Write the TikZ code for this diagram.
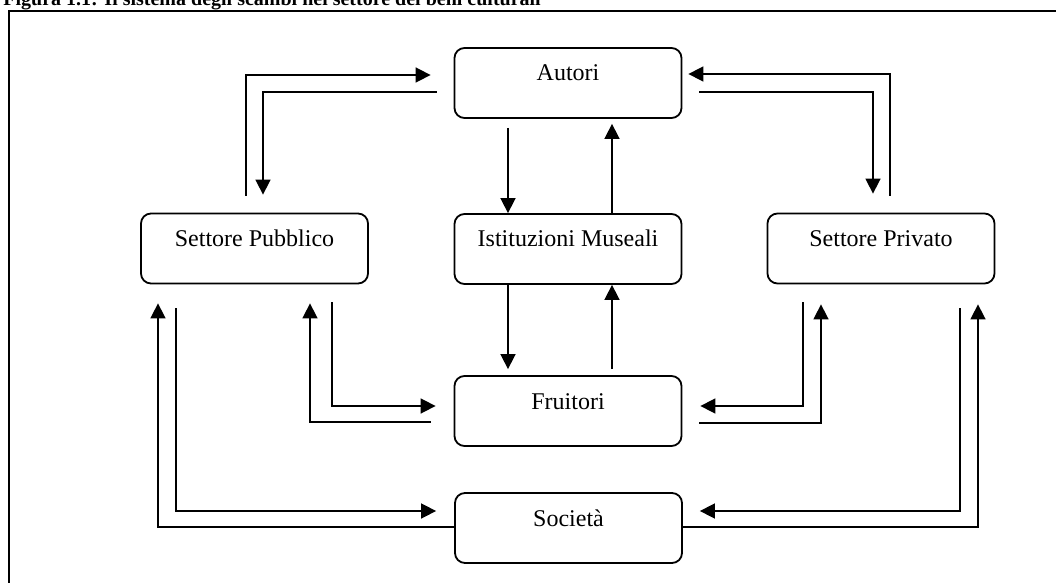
\documentclass[tikz,border=0pt]{standalone}
\usepackage{fontspec}
\setmainfont{Liberation Serif}
\usetikzlibrary{arrows.meta,calc}
\begin{document}
\begin{tikzpicture}[x=0.5pt,y=-0.5pt,
  box/.style={draw, line width=0.9pt, rounded corners=5pt,
    minimum width=113.5pt, minimum height=35pt, inner sep=0pt,
    text height=8pt, text depth=10pt, font=\fontsize{12}{14}\selectfont},
  flow/.style={line width=0.8pt, -{Triangle[length=7.5pt,width=7.5pt]}},
  frameline/.style={line width=1pt}]
  % page area
  \path[use as bounding box] (0,0) rectangle (1056,583);
  \clip (0,0) rectangle (1056,583);

  % caption and surrounding frame
  \node[anchor=base west, inner sep=0pt, font=\bfseries\fontsize{10}{12}\selectfont]
    (title) at (3,6) {Figura 1.1: Il sistema degli scambi nel settore dei beni culturali};
  \draw[frameline] (8.5,640) |- (1120,11.5);

  % actors
  \node[box] (aut) at (568,83)      {Autori};
  \node[box] (ist) at (568,249)     {Istituzioni Museali};
  \node[box] (fru) at (568,411)     {Fruitori};
  \node[box] (soc) at (568.5,528)   {Società};
  \node[box] (pub) at (254.5,248.5) {Settore Pubblico};
  \node[box] (pri) at (881,248.5)   {Settore Privato};

  % central column
  \draw[flow] ($(aut.south)+(-60,9)$) -- ($(ist.north)+(-60,0)$);
  \draw[flow] ($(ist.north)+(44,0)$) -- ($(aut.south)+(44,5)$);
  \draw[flow] ($(ist.south)+(-60,0)$) -- ($(fru.north)+(-60,-6)$);
  \draw[flow] ($(fru.north)+(44,-6)$) -- ($(ist.south)+(44,0)$);

  % sectors <-> Autori
  \draw[flow] ($(pub.north)+(-8.5,-17)$) |- ($(aut.west)+(-23,-8)$);
  \draw[flow] ($(aut.west)+(-17,9)$) -| ($(pub.north)+(8.5,-18)$);
  \draw[flow] ($(pri.north)+(9,-17)$) |- ($(aut.east)+(6,-9)$);
  \draw[flow] ($(aut.east)+(17,9)$) -| ($(pri.north)+(-8,-19)$);

  % sectors <-> Fruitori
  \draw[flow] ($(pub.south)+(77.5,18)$) |- ($(fru.west)+(-18,-5)$);
  \draw[flow] ($(fru.west)+(-23,11)$) -| ($(pub.south)+(55.5,19)$);
  \draw[flow] ($(pri.south)+(-78,18)$) |- ($(fru.east)+(18,-5)$);
  \draw[flow] ($(fru.east)+(17,12)$) -| ($(pri.south)+(-60,20)$);

  % sectors <-> Societa
  \draw[flow] ($(pub.south)+(-78.5,24)$) |- ($(soc.west)+(-18,-17)$);
  \draw[flow] ($(soc.west)+(0,-1)$) -| ($(pub.south)+(-96.5,19)$);
  \draw[flow] ($(pri.south)+(79,24)$) |- ($(soc.east)+(17,-17)$);
  \draw[flow] ($(soc.east)+(0,-1)$) -| ($(pri.south)+(97,20)$);
\end{tikzpicture}
\end{document}
